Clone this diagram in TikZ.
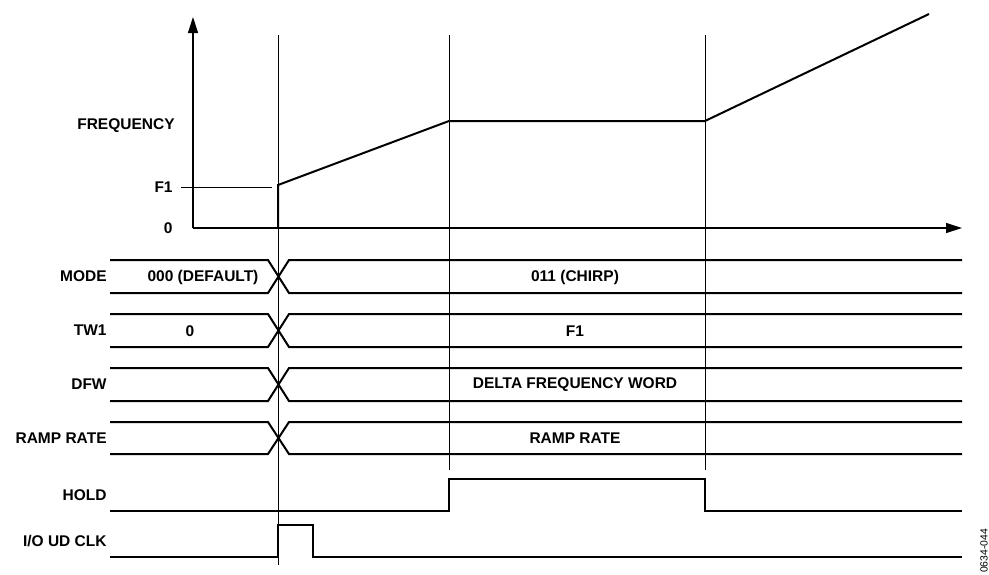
\documentclass[tikz,border=0pt]{standalone}
\usepackage{fontspec}
\setmainfont{Liberation Sans}
\usetikzlibrary{arrows.meta,positioning}

\begin{document}
\begin{tikzpicture}[
    x=0.5pt, y=-0.5pt,
    lbl/.style={
      font=\fontsize{7.75}{9}\selectfont\bfseries,
      anchor=east, inner sep=0pt
    },
    busval/.style={
      font=\fontsize{7.75}{9}\selectfont\bfseries, inner sep=0pt
    },
    sig/.style={line width=1pt, line join=miter},
    guide/.style={line width=0.5pt},
    axis/.style={line width=0.6pt, -{Triangle[length=8pt,width=5pt]}}
  ]
  \useasboundingbox (0,0) rectangle (989,574);

  % Event times
  \coordinate (t0) at (278,0);
  \coordinate (t1) at (449,0);
  \coordinate (t2) at (705,0);

  % Frequency plot
  \coordinate (org) at (193,228);
  \draw[axis] (org) -- (193,17);
  \draw[axis] (org) -- (962,228);
  \node[lbl] (freq) at (175,126) {FREQUENCY};
  \node[lbl] (f1) at (173,187) {F1};
  \node[lbl] (zero) at (173,228) {0};
  \draw[guide] (181,187) -- (272,187);
  \draw[sig] (t0 |- org) -- (278,185) -- (449,121) -- (705,121) -- (929,14);

  % Guide lines
  \draw[guide] (278,35) -- (278,565);
  \draw[guide] (449,35) -- (449,470);
  \draw[guide] (705,35) -- (705,470);

  % Bus rows
  \foreach \top/\bot/\name in {260/293/MODE, 314/347/TW1,
                               368/401/DFW, 422/454/RAMP RATE} {
    \draw[sig] (110,\top) -- (268,\top) -- (289,\bot) -- (962,\bot);
    \draw[sig] (110,\bot) -- (268,\bot) -- (289,\top) -- (962,\top);
    \node[lbl] at (107,{(\top+\bot)/2}) {\name};
  }
  \node[busval] (mode0) at (203,277) {000 (DEFAULT)};
  \node[busval] (mode1) at (575,277) {011 (CHIRP)};
  \node[busval] (tw0) at (190,331) {0};
  \node[busval] (tw1) at (575,331) {F1};
  \node[busval] (dfw) at (575,385) {DELTA FREQUENCY WORD};
  \node[busval] (rate) at (575,438) {RAMP RATE};

  % Single lines
  \node[lbl] (hold) at (107,495) {HOLD};
  \draw[sig] (110,511) -- (449,511) -- (449,479) -- (705,479)
    -- (705,511) -- (962,511);
  \node[lbl] (clk) at (107,541) {I/O UD CLK};
  \draw[sig] (110,557) -- (278,557) -- (278,525) -- (313,525)
    -- (313,557) -- (962,557);

  \node[font=\fontsize{5.2}{6}\selectfont, rotate=90, inner sep=0pt]
    (fig) at (984,551) {0634-044};
\end{tikzpicture}
\end{document}
